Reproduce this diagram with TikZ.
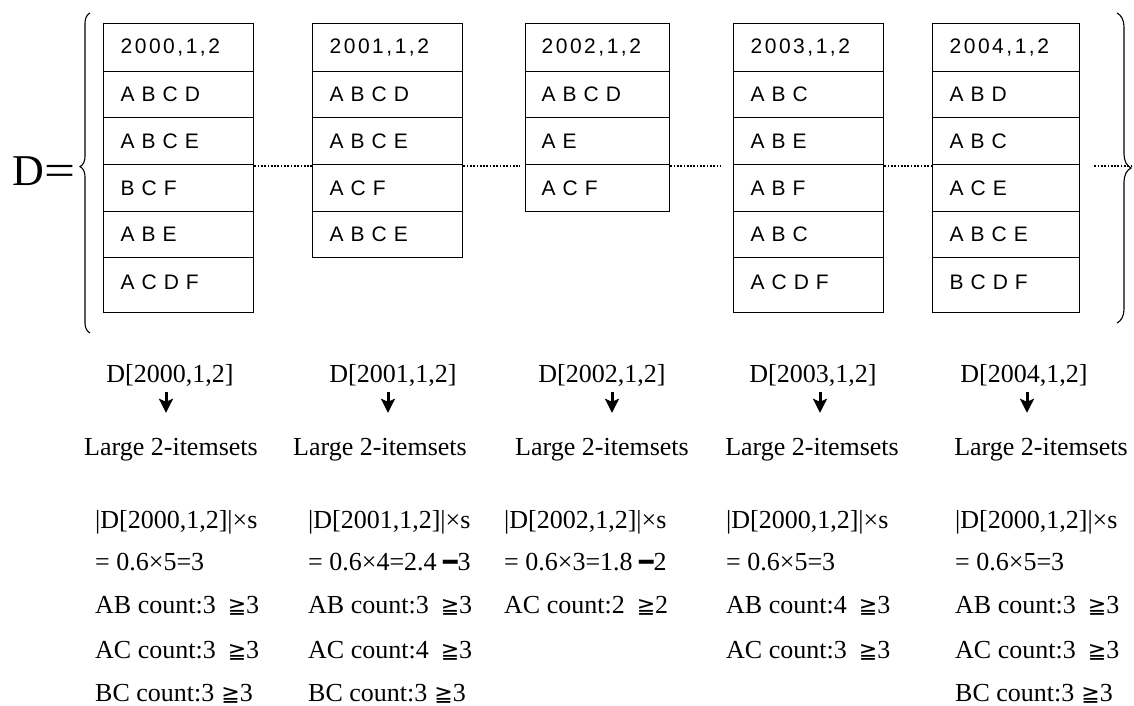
\documentclass[tikz,border=0pt]{standalone}
\usepackage{fontspec}
\setmainfont{Liberation Serif}
\newfontfamily\tabfont[LetterSpace=12]{Liberation Sans}
\newfontfamily\symfont{DejaVu Sans}
\usetikzlibrary{decorations.pathreplacing,arrows.meta}
\newcommand\gqs{{\symfont\fontsize{22}{26}\selectfont ≧}}
\newcommand\heavybar{{\symfont\fontsize{24}{26}\selectfont ━}}
\newcommand\tabrow[4]{%
  \pgfmathsetmacro\rtop{{23,71,117,164,211,257}[#3]}%
  \pgfmathsetmacro\rh{{48,46,47,47,46,55}[#3]}%
  \node[cell, minimum height=\rh pt] (#1r#3) at (#2,\rtop) {#4};}
\tikzset{
  cell/.style={draw, line width=1.3pt, anchor=north west, text width=116pt,
    inner xsep=17pt, inner ysep=0pt, align=left,
    font=\tabfont\fontsize{21}{25}\selectfont},
  dotl/.style={line width=1.7pt, dash pattern=on 1.7pt off 1.6pt, black},
  lab/.style={anchor=center, inner sep=0pt, text height=18pt, text depth=6pt,
    font=\fontsize{26}{30}\selectfont},
  bt/.style={anchor=west, inner sep=0pt, text height=18pt, text depth=6pt,
    font=\fontsize{26}{30}\selectfont},
  arr/.style={line width=3pt, -{Stealth[length=14pt,width=14pt,inset=3pt]},
    shorten <=4pt, shorten >=24pt},
  bracestyle/.style={line width=1.1pt, decorate},
}
\begin{document}
\begin{tikzpicture}[x=1pt,y=-1pt]
\useasboundingbox[fill=white] (0,0) rectangle (1134,706);

% D = and braces
\node[anchor=base west, inner sep=0pt, font=\fontsize{44}{50}\selectfont] (Dlab) at (12,185) {D\kern1pt\scalebox{1.25}[1]{=}};
\draw[bracestyle, decoration={brace, amplitude=10pt, aspect=0.52}] (90,333) -- (90,13);
\draw[bracestyle, decoration={brace, amplitude=14pt, aspect=0.5}] (1117,13) -- (1117,323);

% table 2000
\tabrow{a}{103}{0}{2000,1,2}
\tabrow{a}{103}{1}{A B C D}
\tabrow{a}{103}{2}{A B C E}
\tabrow{a}{103}{3}{B C F}
\tabrow{a}{103}{4}{A B E}
\tabrow{a}{103}{5}{\raisebox{5pt}{A C D F}}
% table 2001
\tabrow{b}{312}{0}{2001,1,2}
\tabrow{b}{312}{1}{A B C D}
\tabrow{b}{312}{2}{A B C E}
\tabrow{b}{312}{3}{A C F}
\tabrow{b}{312}{4}{A B C E}
% table 2002
\begin{scope}[cell/.append style={text width=112pt, inner xsep=16pt}]
\tabrow{c}{525}{0}{2002,1,2}
\tabrow{c}{525}{1}{A B C D}
\tabrow{c}{525}{2}{A E}
\tabrow{c}{525}{3}{A C F}
\end{scope}
% table 2003
\tabrow{d}{733}{0}{2003,1,2}
\tabrow{d}{733}{1}{A B C}
\tabrow{d}{733}{2}{A B E}
\tabrow{d}{733}{3}{A B F}
\tabrow{d}{733}{4}{A B C}
\tabrow{d}{733}{5}{\raisebox{5pt}{A C D F}}
% table 2004
\begin{scope}[cell/.append style={text width=113pt, inner xsep=17pt}]
\tabrow{e}{932}{0}{2004,1,2}
\tabrow{e}{932}{1}{A B D}
\tabrow{e}{932}{2}{A B C}
\tabrow{e}{932}{3}{A C E}
\tabrow{e}{932}{4}{A B C E}
\tabrow{e}{932}{5}{\raisebox{5pt}{B C D F}}
\end{scope}

% dotted connectors
\coordinate (dend) at (1133,166);
\draw[dotl] ([yshift=-2pt]ar3.north east) -- ([yshift=-2pt]br3.north west);
\draw[dotl, shorten >=5pt] ([yshift=-2pt]br3.north east) -- ([yshift=-2pt]cr3.north west);
\draw[dotl, shorten >=13pt] ([yshift=-2pt]cr3.north east) -- ([yshift=-2pt]dr3.north west);
\draw[dotl] ([yshift=-2pt]dr3.north east) -- ([yshift=-2pt]er3.north west);
\draw[dotl, shorten <=14pt] ([yshift=-2pt]er3.north east) -- (dend);

% labels, arrows, Large 2-itemsets
\foreach \n/\lx/\ax/\gx/\yr in {1/170/166/171/2000, 2/393/388/380/2001, 3/602/612/602/2002, 4/813/820/812/2003, 5/1024/1027/1041/2004}{
  \node[lab] (lab\n) at (\lx,376) {D[\yr,1,2]};
  \node[lab] (big\n) at (\gx,449) {Large 2-itemsets};
  \coordinate (ax\n) at (\ax,400);
  \draw[arr] (lab\n.south -| ax\n) -- (big\n.north -| ax\n);
}

% computations
\node[bt] (c1a) at (95,522) {|D[2000,1,2]|×s};
\node[bt] (c1b) at (95,564) {= 0.6×5=3};
\node[bt] (c1c) at (95,607) {AB count:3\hspace{12pt}\gqs3};
\node[bt] (c1d) at (95,652) {AC count:3\hspace{12pt}\gqs3};
\node[bt] (c1e) at (95,695) {BC count:3\hspace{7pt}\gqs3};

\node[bt] (c2a) at (308,522) {|D[2001,1,2]|×s};
\node[bt] (c2b) at (308,564) {= 0.6×4=2.4 \heavybar3};
\node[bt] (c2c) at (308,607) {AB count:3\hspace{12pt}\gqs3};
\node[bt] (c2d) at (308,652) {AC count:4\hspace{12pt}\gqs3};
\node[bt] (c2e) at (308,695) {BC count:3\hspace{7pt}\gqs3};

\node[bt] (c3a) at (504,522) {|D[2002,1,2]|×s};
\node[bt] (c3b) at (504,564) {= 0.6×3=1.8 \heavybar2};
\node[bt] (c3c) at (504,607) {AC count:2\hspace{12pt}\gqs2};

\node[bt] (c4a) at (726,522) {|D[2000,1,2]|×s};
\node[bt] (c4b) at (726,564) {= 0.6×5=3};
\node[bt] (c4c) at (726,607) {AB count:4\hspace{12pt}\gqs3};
\node[bt] (c4d) at (726,652) {AC count:3\hspace{12pt}\gqs3};

\node[bt] (c5a) at (955,522) {|D[2000,1,2]|×s};
\node[bt] (c5b) at (955,564) {= 0.6×5=3};
\node[bt] (c5c) at (955,607) {AB count:3\hspace{12pt}\gqs3};
\node[bt] (c5d) at (955,652) {AC count:3\hspace{12pt}\gqs3};
\node[bt] (c5e) at (955,695) {BC count:3\hspace{7pt}\gqs3};
\end{tikzpicture}
\end{document}
